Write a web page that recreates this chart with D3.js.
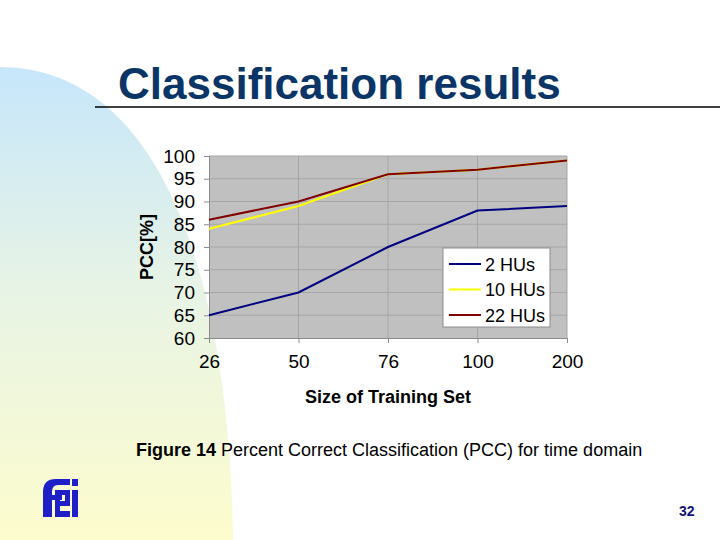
<!DOCTYPE html>
<html>
<head>
<meta charset="utf-8">
<script src="https://cdn.jsdelivr.net/npm/d3@7"></script>
<style>
  html, body { margin: 0; padding: 0; background: #ffffff; }
  svg { display: block; }
  text { font-family: "Liberation Sans", Arial, sans-serif; }
</style>
</head>
<body>
<svg id="chart" width="720" height="540"></svg>
<script>
// ---- data ----
const categories = ["26", "50", "76", "100", "200"];
const hu2 = [65, 70, 80, 88, 89];
const hu10 = [84, 89, 96, 97, 99];
const hu22 = [86, 90, 96, 97, 99];
const seriesNames = ["2 HUs", "10 HUs", "22 HUs"];
const yTicks = [60, 65, 70, 75, 80, 85, 90, 95, 100];

const series = [
  { name: seriesNames[0], values: hu2, color: "#000080" },
  { name: seriesNames[1], values: hu10, color: "#ffff00" },
  { name: seriesNames[2], values: hu22, color: "#800000" }
];

const svg = d3.select("#chart");

// ---- background decoration ----
const defs = svg.append("defs");
const grad = defs.append("linearGradient").attr("id", "bg").attr("x1", 0).attr("y1", 0).attr("x2", 0).attr("y2", 1);
grad.append("stop").attr("offset", "0%").attr("stop-color", "#c6e6fb");
grad.append("stop").attr("offset", "45%").attr("stop-color", "#e6f3e6");
grad.append("stop").attr("offset", "100%").attr("stop-color", "#fdfccd");

const bgPath = d3.path();
bgPath.moveTo(0, 540);
bgPath.lineTo(0, 67);
bgPath.bezierCurveTo(140, 67, 228, 230, 233, 540);
bgPath.closePath();
svg.append("path").attr("d", bgPath.toString()).attr("fill", "url(#bg)");

// ---- title ----
svg.append("text")
  .attr("x", 118).attr("y", 99)
  .attr("font-size", 44).attr("font-weight", "bold")
  .attr("fill", "#0a3566")
  .text("Classification results");
svg.append("line")
  .attr("x1", 95).attr("x2", 720).attr("y1", 107).attr("y2", 107)
  .attr("stroke", "#000").attr("stroke-width", 1.5);

// ---- chart ----
const pLeft = 209, pRight = 567, pTop = 156, pBottom = 338;
const x = d3.scalePoint().domain(categories).range([pLeft, pRight]).padding(0);
const y = d3.scaleLinear().domain([60, 100]).range([pBottom, pTop]);

const g = svg.append("g");
g.append("rect")
  .attr("x", pLeft).attr("y", pTop)
  .attr("width", pRight - pLeft).attr("height", pBottom - pTop)
  .attr("fill", "#c0c0c0");

// grid
g.append("g").selectAll("line").data(yTicks.slice(1)).join("line")
  .attr("x1", pLeft).attr("x2", pRight)
  .attr("y1", d => y(d)).attr("y2", d => y(d))
  .attr("stroke", "#a6a6a6").attr("stroke-width", 1);
g.append("g").selectAll("line").data(categories.slice(1)).join("line")
  .attr("x1", d => x(d)).attr("x2", d => x(d))
  .attr("y1", pTop).attr("y2", pBottom)
  .attr("stroke", "#a6a6a6").attr("stroke-width", 1);

// axes
const yAxis = d3.axisLeft(y).tickValues(yTicks).tickSize(5).tickPadding(9);
const yG = g.append("g").attr("transform", `translate(${pLeft},0)`).call(yAxis);
yG.select(".domain").attr("stroke", "#8c8c8c");
yG.selectAll(".tick line").attr("stroke", "#8c8c8c");
yG.selectAll(".tick text").attr("font-size", 19).attr("fill", "#000")
  .attr("font-family", "Liberation Sans, Arial, sans-serif");

const xAxis = d3.axisBottom(x).tickSize(5).tickPadding(12);
const xG = g.append("g").attr("transform", `translate(0,${pBottom})`).call(xAxis);
xG.select(".domain").attr("stroke", "#8c8c8c");
xG.selectAll(".tick line").attr("stroke", "#8c8c8c");
xG.selectAll(".tick text").attr("font-size", 19).attr("fill", "#000")
  .attr("font-family", "Liberation Sans, Arial, sans-serif");

// lines
const line = d3.line().x((d, i) => x(categories[i])).y(d => y(d));
g.append("g").selectAll("path").data(series).join("path")
  .attr("d", d => line(d.values))
  .attr("fill", "none")
  .attr("stroke", d => d.color)
  .attr("stroke-width", 2);

// axis titles
svg.append("text")
  .attr("x", 388).attr("y", 403)
  .attr("text-anchor", "middle")
  .attr("font-size", 18).attr("font-weight", "bold")
  .text("Size of Training Set");
svg.append("text")
  .attr("transform", "translate(153,247) rotate(-90)")
  .attr("text-anchor", "middle")
  .attr("font-size", 18).attr("font-weight", "bold")
  .text("PCC[%]");

// legend
const lg = svg.append("g");
lg.append("rect")
  .attr("x", 443).attr("y", 248).attr("width", 107).attr("height", 79)
  .attr("fill", "#ffffff").attr("stroke", "#8c8c8c").attr("stroke-width", 1);
const legY = d3.scalePoint().domain(seriesNames).range([264, 315]);
const items = lg.selectAll("g").data(series).join("g")
  .attr("transform", d => `translate(0,${legY(d.name)})`);
items.append("line")
  .attr("x1", 449).attr("x2", 481).attr("y1", 0).attr("y2", 0)
  .attr("stroke", d => d.color).attr("stroke-width", 2);
items.append("text")
  .attr("x", 485).attr("y", 6.5)
  .attr("font-size", 18)
  .text(d => d.name);

// caption
const cap = svg.append("text").attr("x", 136).attr("y", 456).attr("font-size", 18);
cap.append("tspan").attr("font-weight", "bold").text("Figure 14 ");
cap.append("tspan").text("Percent Correct Classification (PCC) for time domain");

// page number
svg.append("text")
  .attr("x", 679).attr("y", 516)
  .attr("font-size", 14).attr("font-weight", "bold")
  .attr("fill", "#141478")
  .text("32");

// logo (stylised "fei")
const logo = svg.append("g").attr("fill", "#1f1fc8");
logo.append("path").attr("d", "M43,517 L43,492 Q43,479 56,479 L70,479 L70,485 L58,485 Q52,485 52,492 L52,495 L62,495 L62,500 L52,500 L52,517 Z");
logo.append("path").attr("d", "M55,490 L70,490 L70,506 L60,506 L60,511 L70,511 L70,517 L55,517 Z M60,495 L60,501 L65,501 L65,495 Z");
logo.append("rect").attr("x", 72).attr("y", 479).attr("width", 6).attr("height", 7);
logo.append("rect").attr("x", 72).attr("y", 490).attr("width", 6).attr("height", 27);
</script>
</body>
</html>
